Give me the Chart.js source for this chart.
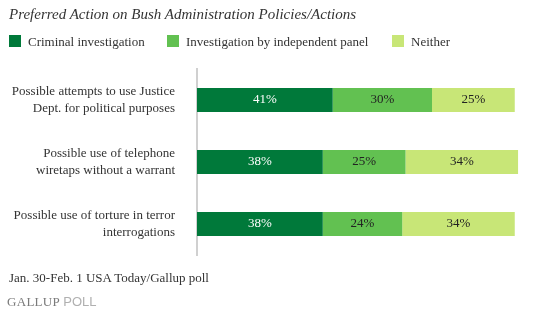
<!DOCTYPE html>
<html>
<head>
<meta charset="utf-8">
<script src="https://cdn.jsdelivr.net/npm/chart.js@4.4.1/dist/chart.umd.min.js"></script>
<style>
  body { margin: 0; background: #fff; }
  #wrap { position: relative; width: 554px; height: 323px; }
  #chart { position: absolute; left: 0; top: 0; }
  .title { position: absolute; left: 9px; top: 6px; font: italic 15px "Liberation Serif", serif; color: #333; white-space: nowrap; }
  .legend { position: absolute; left: 9px; top: 34px; font: 13px "Liberation Serif", serif; color: #333; white-space: nowrap; }
  .legend span.item { position: absolute; top: 0; }
  .legend i { display: inline-block; width: 12px; height: 12px; vertical-align: -1px; margin-right: 7px; }
  .source { position: absolute; left: 9px; top: 270px; font: 13px "Liberation Serif", serif; color: #333; white-space: nowrap; }
  .logo { position: absolute; left: 7px; top: 294px; font-size: 13px; white-space: nowrap; }
  .logo .g { font-family: "Liberation Serif", serif; color: #7a7a7a; letter-spacing: 0.3px; }
  .logo .p { font-family: "Liberation Sans", sans-serif; color: #b0b0b0; }
</style>
</head>
<body>
<div id="wrap">
  <canvas id="chart" width="554" height="323"></canvas>
  <div class="title">Preferred Action on Bush Administration Policies/Actions</div>
  <div class="legend" id="legend"></div>
  <div class="source">Jan. 30-Feb. 1 USA Today/Gallup poll</div>
  <div class="logo"><span class="g">GALLUP</span> <span class="p">POLL</span></div>
</div>
<script>
var categories = [
  ["Possible attempts to use Justice", "Dept. for political purposes"],
  ["Possible use of telephone", "wiretaps without a warrant"],
  ["Possible use of torture in terror", "interrogations"]
];
var seriesNames = ["Criminal investigation", "Investigation by independent panel", "Neither"];
var criminal = [41, 38, 38];
var panel = [30, 25, 24];
var neither = [25, 34, 34];
var colors = ["#00793a", "#62c151", "#c8e677"];
var labelColors = ["#ffffff", "#222222", "#222222"];
var legendX = [0, 158, 383];

var values = [criminal, panel, neither];

// legend
var legend = document.getElementById("legend");
seriesNames.forEach(function (name, i) {
  var s = document.createElement("span");
  s.className = "item";
  s.style.left = legendX[i] + "px";
  s.innerHTML = '<i style="background:' + colors[i] + '"></i>' + name;
  legend.appendChild(s);
});

// value labels in the middle of each segment
var segmentLabels = {
  id: "segmentLabels",
  afterDatasetsDraw: function (chart) {
    var ctx = chart.ctx;
    ctx.save();
    ctx.font = '13px "Liberation Serif", serif';
    ctx.textAlign = "center";
    ctx.textBaseline = "middle";
    chart.data.datasets.forEach(function (ds, di) {
      var meta = chart.getDatasetMeta(di);
      ctx.fillStyle = labelColors[di];
      meta.data.forEach(function (bar, j) {
        var x = (bar.x + bar.base) / 2;
        ctx.fillText(ds.data[j] + "%", x, bar.y);
      });
    });
    ctx.restore();
  }
};

var ctx = document.getElementById("chart");
var chart = new Chart(ctx, {
  type: "bar",
  data: {
    labels: categories,
    datasets: seriesNames.map(function (name, i) {
      return {
        label: name,
        data: values[i],
        backgroundColor: colors[i],
        borderWidth: 0,
        barPercentage: 0.39,
        categoryPercentage: 1
      };
    })
  },
  options: {
    indexAxis: "y",
    responsive: false,
    animation: false,
    layout: { padding: { top: 69, bottom: 68, left: 0, right: 26 } },
    plugins: {
      legend: { display: false },
      title: { display: false },
      tooltip: { enabled: false }
    },
    scales: {
      x: {
        stacked: true,
        min: 0,
        max: 100,
        display: false
      },
      y: {
        stacked: true,
        afterFit: function (scale) { scale.width = 197; },
        grid: { display: false, drawTicks: false },
        border: { display: true, color: "#d0d0d0", width: 2 },
        ticks: {
          padding: 22,
          color: "#333",
          font: { family: "Liberation Serif", size: 13, lineHeight: 1.25 }
        }
      }
    }
  },
  plugins: [segmentLabels]
});
</script>
</body>
</html>
